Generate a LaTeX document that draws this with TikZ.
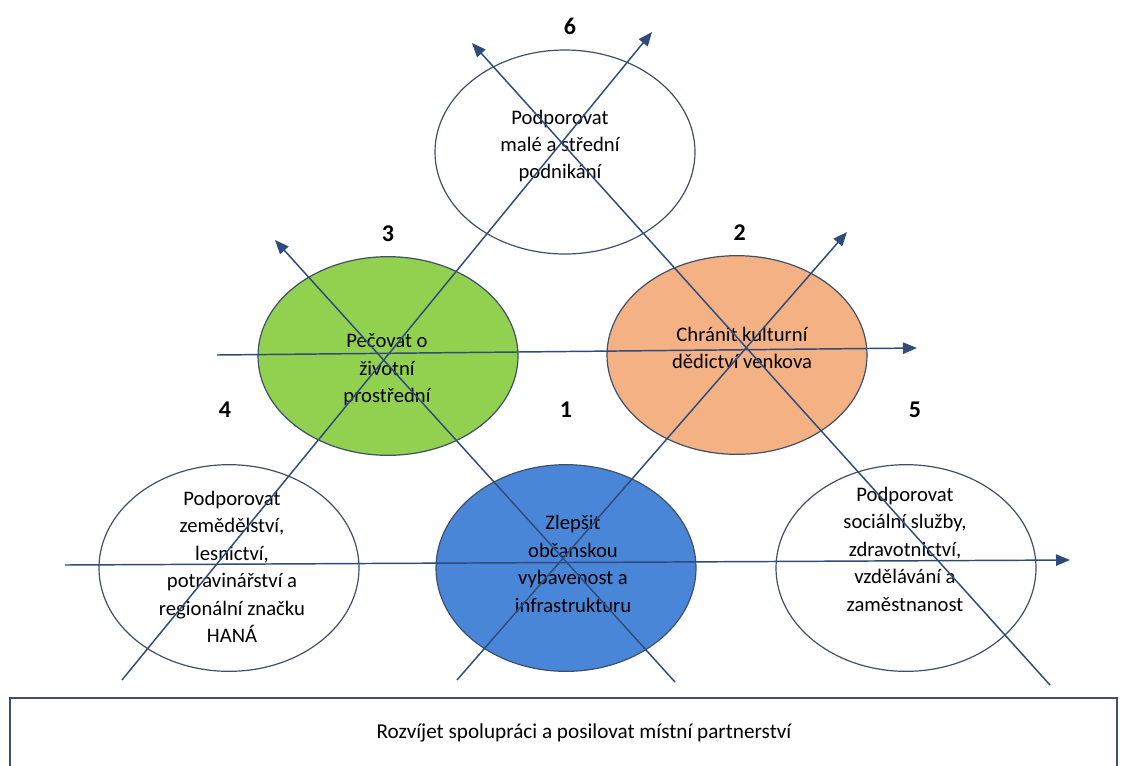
\documentclass[tikz,border=0pt]{standalone}
\usepackage{fontspec}
\setmainfont{Carlito}
\usepackage{xcolor}
\usepackage{tikz}
\usetikzlibrary{arrows.meta,positioning,shapes.geometric}

\definecolor{leafgreen}{HTML}{92D050}
\definecolor{peach}{HTML}{F4B183}
\definecolor{skyblue}{HTML}{4A86D8}
\definecolor{navyline}{HTML}{2F4B7C}
\definecolor{rimgray}{HTML}{3F4F69}

\begin{document}
\begin{tikzpicture}[x=0.75pt, y=-0.75pt,
  goal/.style={ellipse, draw=rimgray, line width=0.9pt, fill=#1,
               minimum width=195pt, minimum height=155pt, inner sep=0pt},
  goal/.default=white,
  txt/.style={align=center, font=\fontsize{15.5}{20.6}\selectfont, text=black, inner sep=0pt},
  num/.style={font=\fontsize{18}{20}\bfseries\selectfont, inner sep=0pt},
  ar/.style={-{Triangle[length=10.5pt, width=8.5pt]}, line width=1.1pt, navyline}]
  \useasboundingbox (0,0) rectangle (1121,765);
  % goals
  \node[goal, minimum height=153pt] (g6) at (565,152) {};
  \node[goal=leafgreen, minimum height=149pt] (g3) at (388,356) {};
  \node[goal=peach, minimum height=149pt] (g2) at (737,355) {};
  \node[goal] (g4) at (229,568) {};
  \node[goal=skyblue] (g1) at (566,568) {};
  \node[goal] (g5) at (906,568) {};
  \node[txt] (t6) at (560,146) {Podporovat\\malé a střední\\podnikání};
  \node[txt] (t3) at (387,370) {Pečovat o\\životní\\prostřední};
  \node[txt] (t2) at (742,348) {Chránit kulturní\\dědictví venkova};
  \node[txt] (t4) at (232,567) {Podporovat\\zemědělství,\\lesnictví,\\potravinářství a\\regionální značku\\HANÁ};
  \node[txt] (t1) at (573,564) {Zlepšit\\občanskou\\vybavenost a\\infrastrukturu};
  \node[txt] (t5) at (905,549) {Podporovat\\sociální služby,\\zdravotnictví,\\vzdělávání a\\zaměstnanost};
  % numbers
  \node[num, above=10.5pt of g6, xshift=3.75pt] (n6) {6};
  \node[num, above=10.5pt of g3] (n3) {3};
  \node[num, above=10.5pt of g2, xshift=2pt] (n2) {2};
  \node[num, above=34.5pt of g4, xshift=-3pt] (n4) {4};
  \node[num, above=34.5pt of g1] (n1) {1};
  \node[num, above=34.5pt of g5, xshift=6.75pt] (n5) {5};
  % common base
  \node[draw=rimgray, line width=1pt, minimum width=830.25pt, minimum height=52.5pt,
        inner sep=0pt] (base) at (563.5,733) {};
  \node[txt, font=\fontsize{15.9}{19}\selectfont] (baset) at (584,733)
    {Rozvíjet spolupráci a posilovat místní partnerství};
  % arrows
  \coordinate (a1) at (122,680); \coordinate (a2) at (652,32);
  \coordinate (b1) at (457,680); \coordinate (b2) at (847,232);
  \coordinate (c1) at (1050,685); \coordinate (c2) at (472,43);
  \coordinate (d1) at (675,682); \coordinate (d2) at (275,240);
  \coordinate (h1) at (217,355); \coordinate (h2) at (917,348);
  \coordinate (k1) at (65,565); \coordinate (k2) at (1070,560);
  \draw[ar] (a1) -- (a2);
  \draw[ar] (b1) -- (b2);
  \draw[ar] (c1) -- (c2);
  \draw[ar] (d1) -- (d2);
  \draw[ar] (h1) -- (h2);
  \draw[ar] (k1) -- (k2);
\end{tikzpicture}
\end{document}
